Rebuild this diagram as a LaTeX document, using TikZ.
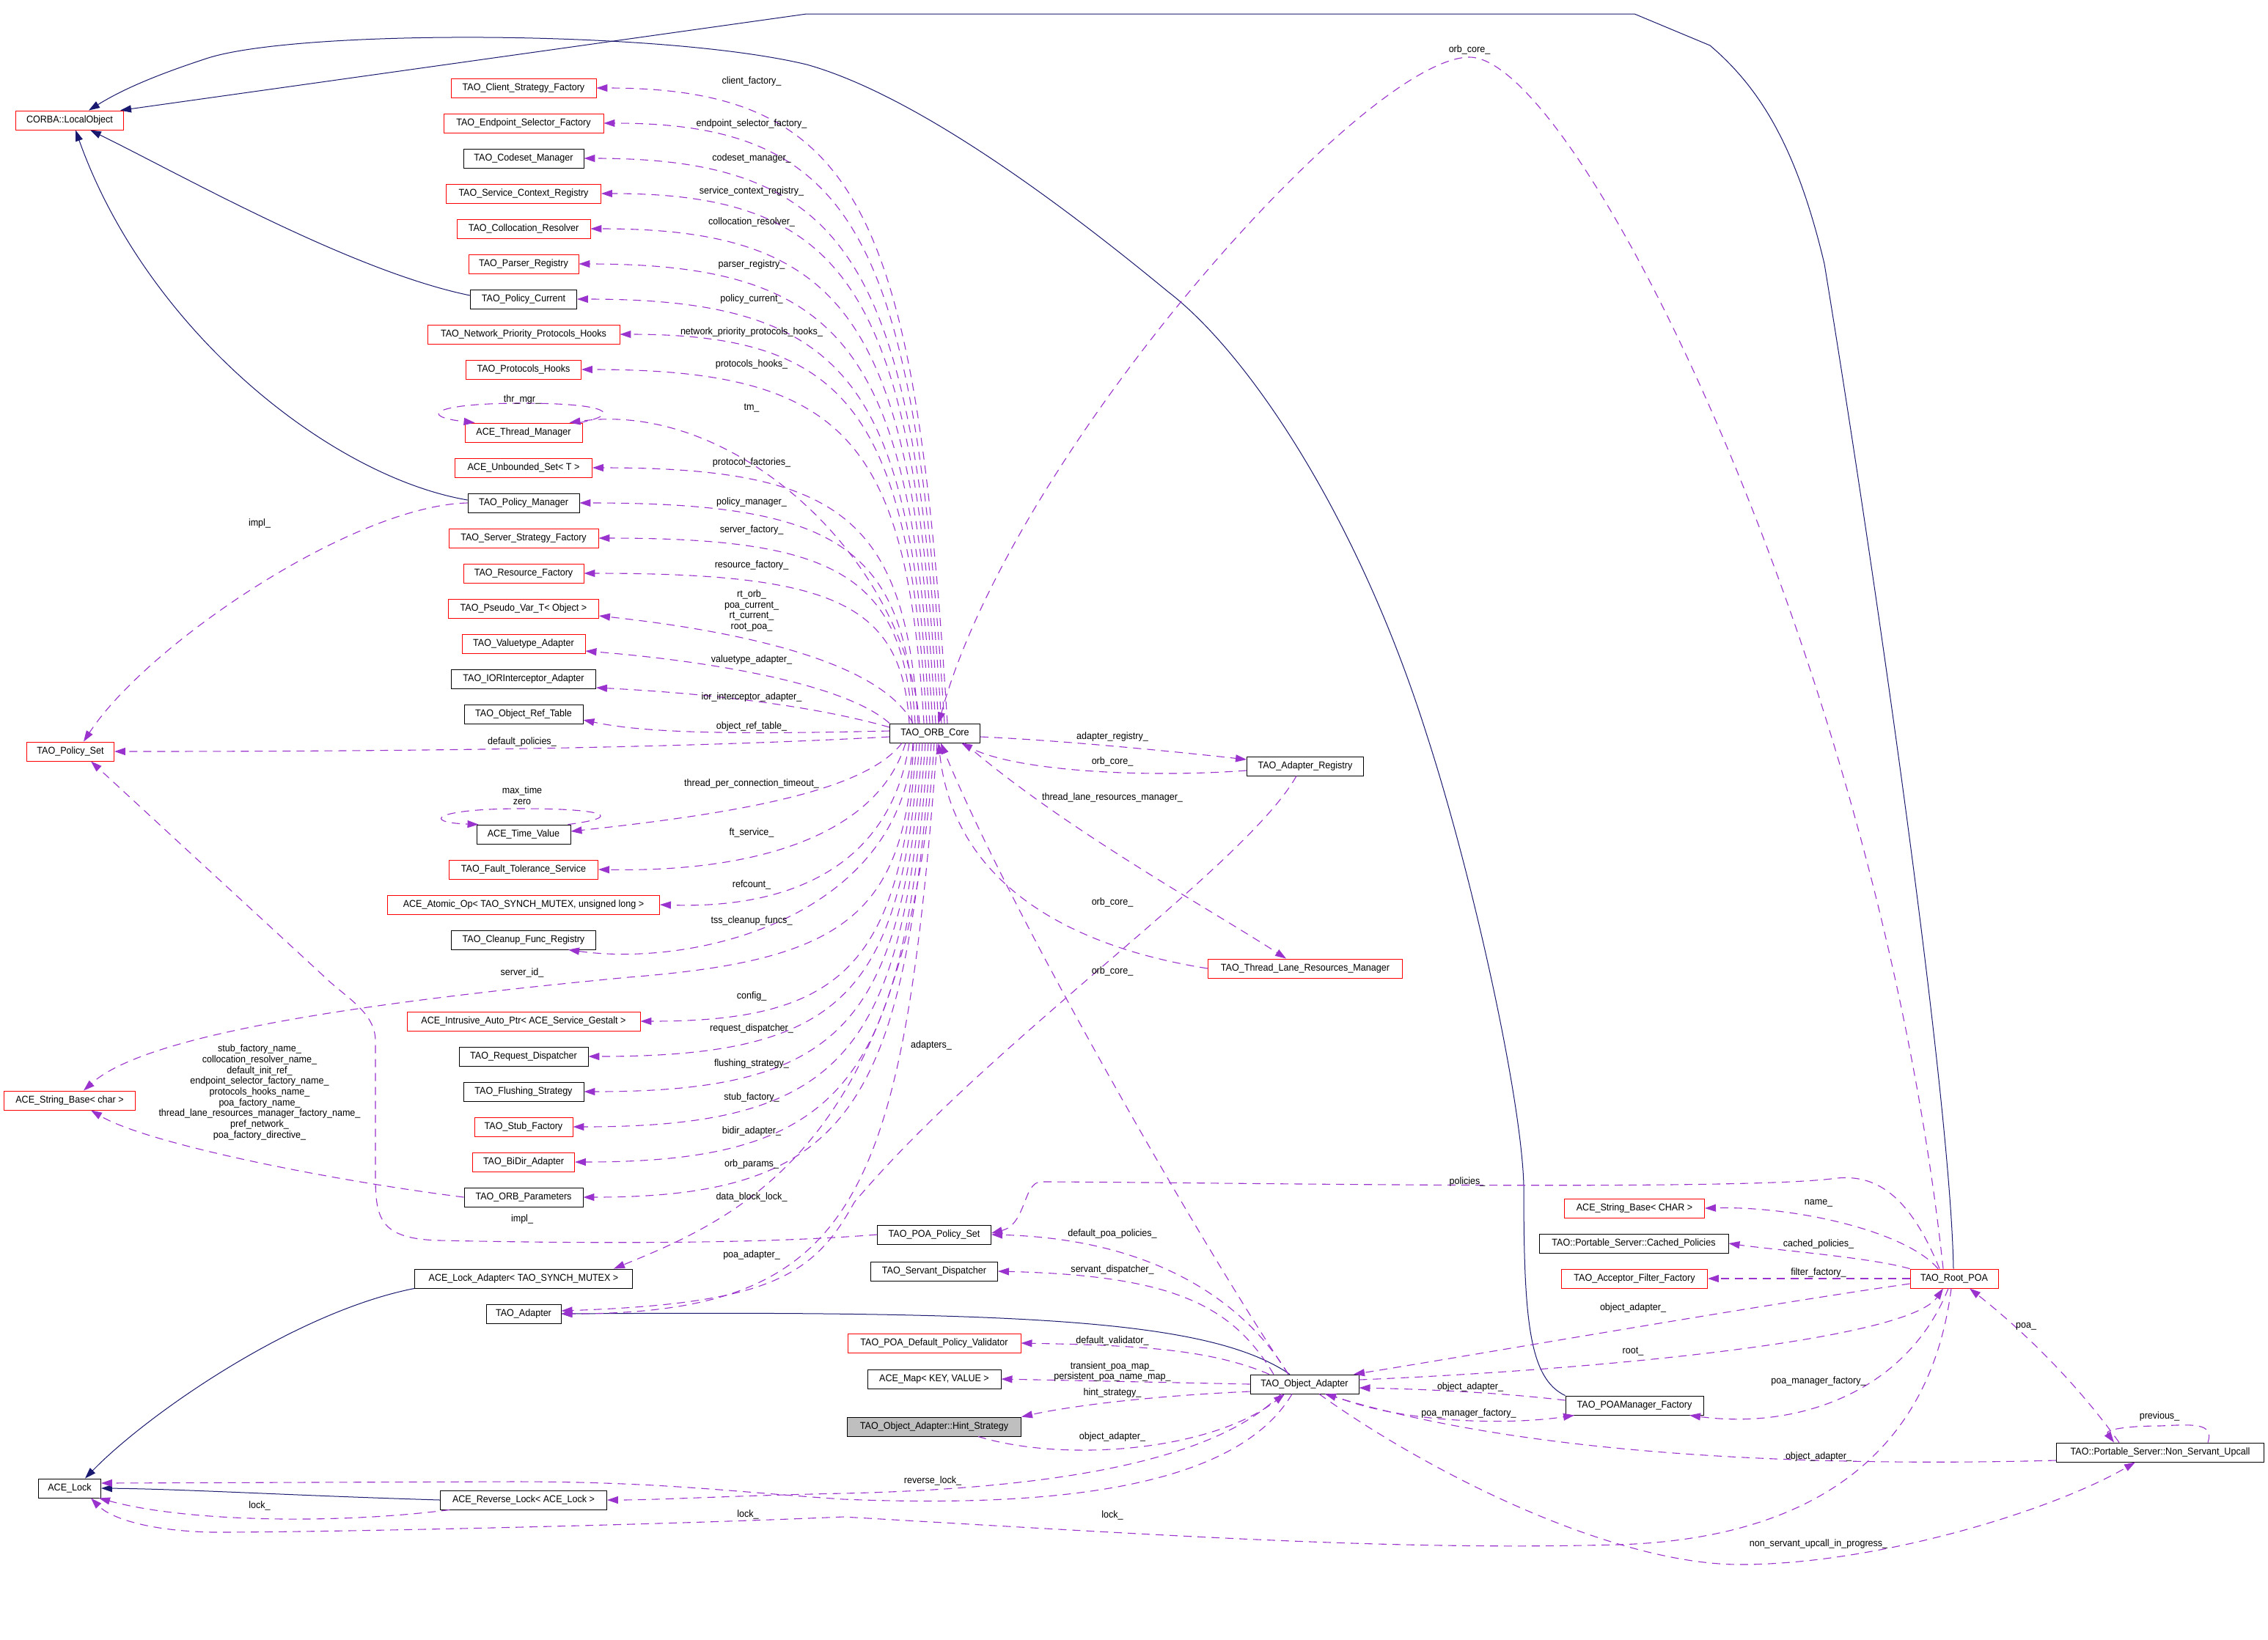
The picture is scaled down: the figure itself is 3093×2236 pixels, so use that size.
\documentclass[tikz,border=0pt]{standalone}
\usepackage{fontspec}
\setmainfont[FakeStretch=0.93]{Liberation Sans}
\usetikzlibrary{arrows.meta}
\definecolor{navyc}{HTML}{191970}
\definecolor{purp}{HTML}{9A32CD}
\newcommand\myfanup[3]{%
  \pgfmathsetmacro\myDy{987-#3}%
  \pgfmathsetmacro\mySx{#2-1275}%
  \pgfmathsetmacro\myAx{#2-0.05*\myDy}%
  \pgfmathsetmacro\myAy{#3+0.2*\myDy}%
  \pgfmathsetmacro\myBx{1125+0.06*\myDy}%
  \draw[use] ([xshift=\mySx pt]orb.north) .. controls (\myAx,\myAy) and (\myBx,#3) .. (#1.east);%
}
\newcommand\myfandown[3]{%
  \pgfmathsetmacro\myDy{#3-1013}%
  \pgfmathsetmacro\mySx{#2-1275}%
  \pgfmathsetmacro\myAx{#2-0.06*\myDy}%
  \pgfmathsetmacro\myAy{#3-0.2*\myDy}%
  \pgfmathsetmacro\myBx{1130+0.05*\myDy}%
  \draw[use] ([xshift=\mySx pt]orb.south) .. controls (\myAx,\myAy) and (\myBx,#3) .. (#1.east);%
}
\begin{document}
\begin{tikzpicture}[x=1pt,y=-1pt,
  cls/.style={draw=black, line width=0.9pt, minimum height=26pt, inner sep=0pt, fill=white, font=\fontsize{13.5}{14.7}\selectfont},
  redcls/.style={cls, draw=red},
  graycls/.style={cls, fill=black!25},
  inh/.style={draw=navyc, line width=1pt, -{Triangle[length=15pt,width=10pt]}},
  use/.style={draw=purp, line width=1.1pt, dash pattern=on 11pt off 8pt, -{Triangle[length=15pt,width=10pt]}},
  lab/.style={inner sep=0pt, align=center, font=\fontsize{13.5}{14.7}\selectfont}]
\fill[white] (0,0) rectangle (3093,2236);
\path[use as bounding box] (0,0) rectangle (3093,2236);

% ---------- nodes ----------
\node[redcls, minimum width=147pt] (corba) at (95,164) {CORBA::LocalObject};
\node[redcls, minimum width=119pt] (policyset) at (96,1025) {TAO\_Policy\_Set};
\node[redcls, minimum width=179pt] (strbase) at (95,1501) {ACE\_String\_Base< char >};
\node[cls, minimum width=85pt] (acelock) at (95,2030) {ACE\_Lock};

\node[redcls, minimum width=198pt] (csf) at (714,120) {TAO\_Client\_Strategy\_Factory};
\node[redcls, minimum width=218pt] (esf) at (714,168) {TAO\_Endpoint\_Selector\_Factory};
\node[cls, minimum width=164pt] (csm) at (714,216) {TAO\_Codeset\_Manager};
\node[redcls, minimum width=211pt] (scr) at (714,264) {TAO\_Service\_Context\_Registry};
\node[redcls, minimum width=182pt] (colr) at (714,312) {TAO\_Collocation\_Resolver};
\node[redcls, minimum width=150pt] (parr) at (714,360) {TAO\_Parser\_Registry};
\node[cls, minimum width=145pt] (polcur) at (714,408) {TAO\_Policy\_Current};
\node[redcls, minimum width=262pt] (nph) at (714,456) {TAO\_Network\_Priority\_Protocols\_Hooks};
\node[redcls, minimum width=157pt] (ph) at (714,504) {TAO\_Protocols\_Hooks};
\node[redcls, minimum width=160pt] (thrm) at (714,590) {ACE\_Thread\_Manager};
\node[redcls, minimum width=187pt] (uset) at (714,638) {ACE\_Unbounded\_Set< T >};
\node[cls, minimum width=152pt] (polman) at (714,686) {TAO\_Policy\_Manager};
\node[redcls, minimum width=204pt] (ssf) at (714,734) {TAO\_Server\_Strategy\_Factory};
\node[redcls, minimum width=164pt] (rf) at (714,782) {TAO\_Resource\_Factory};
\node[redcls, minimum width=205pt] (pvar) at (714,830) {TAO\_Pseudo\_Var\_T< Object >};
\node[redcls, minimum width=168pt] (vta) at (714,878) {TAO\_Valuetype\_Adapter};
\node[cls, minimum width=197pt] (iora) at (714,926) {TAO\_IORInterceptor\_Adapter};
\node[cls, minimum width=162pt] (ort) at (714,974) {TAO\_Object\_Ref\_Table};
\node[cls, minimum width=128pt] (timev) at (714,1138) {ACE\_Time\_Value};
\node[redcls, minimum width=203pt] (fts) at (714,1186) {TAO\_Fault\_Tolerance\_Service};
\node[redcls, minimum width=371pt] (atom) at (714,1234) {ACE\_Atomic\_Op< TAO\_SYNCH\_MUTEX, unsigned long >};
\node[cls, minimum width=197pt] (cfr) at (714,1282) {TAO\_Cleanup\_Func\_Registry};
\node[redcls, minimum width=318pt] (iap) at (714,1393) {ACE\_Intrusive\_Auto\_Ptr< ACE\_Service\_Gestalt >};
\node[cls, minimum width=176pt] (rd) at (714,1441) {TAO\_Request\_Dispatcher};
\node[cls, minimum width=164pt] (fs) at (714,1489) {TAO\_Flushing\_Strategy};
\node[redcls, minimum width=134pt] (sf) at (714,1537) {TAO\_Stub\_Factory};
\node[redcls, minimum width=139pt] (bidir) at (714,1585) {TAO\_BiDir\_Adapter};
\node[cls, minimum width=162pt] (orbp) at (714,1633) {TAO\_ORB\_Parameters};
\node[cls, minimum width=297pt] (lockad) at (714,1744) {ACE\_Lock\_Adapter< TAO\_SYNCH\_MUTEX >};
\node[cls, minimum width=102pt] (adapter) at (714,1792) {TAO\_Adapter};
\node[cls, minimum width=227pt] (revlock) at (714,2046) {ACE\_Reverse\_Lock< ACE\_Lock >};

\node[cls, minimum width=123pt] (orb) at (1275,1000) {TAO\_ORB\_Core};
\node[cls, minimum width=155pt] (pps) at (1274,1684) {TAO\_POA\_Policy\_Set};
\node[cls, minimum width=173pt] (sd) at (1274,1734) {TAO\_Servant\_Dispatcher};
\node[redcls, minimum width=236pt] (dpv) at (1274,1832) {TAO\_POA\_Default\_Policy\_Validator};
\node[cls, minimum width=182pt] (map) at (1274,1881) {ACE\_Map< KEY, VALUE >};
\node[graycls, minimum width=237pt] (hint) at (1274,1946) {TAO\_Object\_Adapter::Hint\_Strategy};

\node[cls, minimum width=159pt] (areg) at (1780,1045) {TAO\_Adapter\_Registry};
\node[redcls, minimum width=265pt] (tlrm) at (1780,1321) {TAO\_Thread\_Lane\_Resources\_Manager};
\node[cls, minimum width=148pt] (oa) at (1779,1888) {TAO\_Object\_Adapter};

\node[redcls, minimum width=191pt] (sbc) at (2229,1648) {ACE\_String\_Base< CHAR >};
\node[cls, minimum width=258pt] (cpol) at (2228,1696) {TAO::Portable\_Server::Cached\_Policies};
\node[redcls, minimum width=199pt] (aff) at (2229,1744) {TAO\_Acceptor\_Filter\_Factory};
\node[cls, minimum width=188pt] (poamf) at (2229,1917) {TAO\_POAManager\_Factory};
\node[redcls, minimum width=120pt] (rootpoa) at (2665,1744) {TAO\_Root\_POA};
\node[cls, minimum width=283pt] (nsu) at (2946,1981) {TAO::Portable\_Server::Non\_Servant\_Upcall};

% ---------- inheritance ----------
\draw[inh] ([yshift=5pt]polcur.west) .. controls (480,370) and (250,240) .. ([xshift=28pt]corba.south);
\draw[inh] ([yshift=4pt]polman.west) .. controls (450,650) and (200,450) .. ([xshift=8pt]corba.south);
\draw[inh] (poamf.north west) .. controls (2085,1880) and (2078,1800) .. (2078,1617)
  .. controls (2075,1500) and (2010,1200) .. (1945,1000)
  .. controls (1850,700) and (1700,480) .. (1593,398)
  .. controls (1450,280) and (1250,130) .. (1100,88)
  .. controls (900,40) and (400,40) .. (281,80)
  .. controls (220,100) and (170,120) .. ([xshift=26pt]corba.north);
\draw[inh] ([xshift=-1pt]rootpoa.north) .. controls (2660,1500) and (2560,800) .. (2488,360)
  .. controls (2450,200) and (2400,120) .. (2332,62) -- (2229,19) -- (1100,19) -- ([xshift=69pt]corba.north);
\draw[inh] (lockad.south west) .. controls (400,1790) and (200,1930) .. ([xshift=21pt]acelock.north);
\draw[inh] (revlock.west) .. controls (400,2040) and (250,2031) .. (acelock.east);
\draw[inh] ([xshift=-20pt]oa.north) .. controls (1650,1800) and (1400,1788) .. (adapter.east);

% ---------- ORB core fan (upper) ----------
\myfanup{csf}{1292}{120}
\myfanup{esf}{1288}{168}
\myfanup{csm}{1284}{216}
\myfanup{scr}{1280}{264}
\myfanup{colr}{1276}{312}
\myfanup{parr}{1272}{360}
\myfanup{polcur}{1268}{408}
\myfanup{nph}{1264}{456}
\myfanup{ph}{1260}{504}
\myfanup{uset}{1252}{638}
\myfanup{polman}{1248}{686}
\myfanup{ssf}{1244}{734}
\myfanup{rf}{1240}{782}
\draw[use] ([xshift=-21pt]orb.north) .. controls (1235,760) and (1000,545) .. ([xshift=-18pt]thrm.north east);
\draw[use] ([xshift=-30pt]orb.north) .. controls (1200,900) and (1000,860) .. ([yshift=-10pt]pvar.east);
\draw[use] (orb.north west) .. controls (1150,930) and (950,900) .. ([yshift=-10pt]vta.east);
\draw[use] ([yshift=8pt]orb.west) .. controls (1100,960) and (950,945) .. ([yshift=-12pt]iora.east);
\draw[use] ([yshift=3pt]orb.west) .. controls (1000,1002) and (880,1000) .. ([yshift=-8pt]ort.east);
\draw[use] ([yshift=-5pt]orb.west) .. controls (900,1022) and (500,1025) .. (policyset.east);
% self loops
\draw[use] ([xshift=-4pt]thrm.north east) .. controls (850,565) and (830,550) .. (712,550) .. controls (590,550) and (570,568) .. ([xshift=14pt]thrm.north west);
\draw[use] ([xshift=-4pt]timev.north east) .. controls (850,1115) and (830,1103) .. (712,1103) .. controls (590,1103) and (575,1122) .. ([xshift=3pt]timev.north west);
\draw[use] (polman.west) .. controls (480,690) and (200,880) .. ([xshift=18pt]policyset.north);

% ---------- ORB core fan (lower) ----------
\draw[use] ([xshift=-45pt]orb.south) .. controls (1180,1080) and (1000,1110) .. ([yshift=4pt]timev.east);
\draw[use] ([xshift=-40pt]orb.south) .. controls (1200,1130) and (1050,1190) .. (fts.east);
\draw[use] ([xshift=-35pt]orb.south) .. controls (1215,1180) and (1080,1240) .. (atom.east);
\draw[use] ([xshift=-30pt]orb.south) .. controls (1230,1250) and (950,1320) .. ([xshift=61pt]cfr.south);
\draw[use] ([xshift=-29pt]orb.south) .. controls (1235,1250) and (1150,1310) .. (857,1333)
  .. controls (500,1367) and (200,1410) .. ([xshift=19pt]strbase.north);
\myfandown{iap}{1250}{1393}
\myfandown{rd}{1254}{1441}
\myfandown{fs}{1258}{1489}
\myfandown{sf}{1262}{1537}
\myfandown{bidir}{1266}{1585}
\myfandown{orbp}{1270}{1633}
\draw[use] ([xshift=-1pt]orb.south) .. controls (1240,1560) and (1010,1660) .. ([xshift=123pt]lockad.north);
\myfandown{adapter}{1278}{1792}
\draw[use] (orbp.west) .. controls (450,1610) and (200,1560) .. ([xshift=29pt]strbase.south);
\draw[use] (pps.west) .. controls (1000,1700) and (700,1694) .. (600,1692)
  .. controls (515,1690) and (512,1660) .. (512,1600) -- (512,1420)
  .. controls (512,1380) and (470,1360) .. (440,1330) -- ([xshift=28pt]policyset.south);

% ---------- right part ----------
\draw[use] ([xshift=-15pt]rootpoa.north) .. controls (2560,900) and (2150,78) .. (2004,78)
  .. controls (1860,78) and (1380,620) .. ([xshift=5pt]orb.north);
\draw[use] ([yshift=-5pt]orb.east) .. controls (1450,1010) and (1600,1025) .. ([yshift=9pt]areg.west);
\draw[use] ([yshift=-6pt]areg.west) .. controls (1550,1062) and (1380,1050) .. ([xshift=36pt]orb.south);
\draw[use] ([xshift=40pt]orb.south) .. controls (1450,1130) and (1650,1240) .. ([xshift=-26pt]tlrm.north);
\draw[use] (tlrm.west) .. controls (1450,1290) and (1300,1200) .. ([xshift=5pt]orb.south);
\draw[use] ([xshift=-12pt]areg.south) .. controls (1700,1180) and (1350,1420) .. (1165,1640)
  .. controls (1110,1740) and (1050,1778) .. ([yshift=4pt]adapter.east);
\draw[use] ([xshift=-22pt]oa.north) .. controls (1640,1700) and (1380,1250) .. ([xshift=8pt]orb.south);

\draw[use] ([xshift=-22pt]oa.north) .. controls (1700,1780) and (1580,1690) .. (pps.east);
\draw[use] ([xshift=-42pt]oa.north) .. controls (1680,1780) and (1600,1740) .. (sd.east);
\draw[use] ([xshift=-48pt]oa.north) .. controls (1650,1840) and (1550,1835) .. (dpv.east);
\draw[use] (oa.west) -- (map.east);
\draw[use] ([yshift=-10pt]oa.west) .. controls (1550,1905) and (1450,1920) .. (hint.north east);
\draw[use] ([xshift=60pt]hint.south) .. controls (1450,1995) and (1650,1980) .. ([xshift=-27pt]oa.south);
\draw[use] ([xshift=-32pt]oa.south) .. controls (1660,1990) and (1450,2030) .. (1150,2037)
  .. controls (1000,2040) and (900,2046) .. (revlock.east);
\draw[use] ([xshift=-17pt]oa.south) .. controls (1680,2040) and (1400,2055) .. (1150,2045)
  .. controls (1000,2035) and (900,2021) .. (700,2021) -- ([yshift=7pt]acelock.east);
\draw[use] ([xshift=13pt]revlock.south west) .. controls (450,2080) and (250,2075) .. ([xshift=40pt]acelock.south);
\draw[use] ([xshift=-4pt]rootpoa.south) .. controls (2630,2000) and (2450,2100) .. (2205,2107)
  .. controls (1900,2115) and (1600,2095) .. (1150,2069)
  .. controls (900,2080) and (450,2090) .. (290,2090)
  .. controls (200,2088) and (150,2070) .. ([xshift=29pt]acelock.south);
\draw[use] ([xshift=20pt]oa.south) .. controls (1950,2010) and (2200,2134) .. (2373,2134)
  .. controls (2560,2134) and (2800,2060) .. ([xshift=-34pt]nsu.south);

\draw[use] ([xshift=-20pt]rootpoa.north) .. controls (2600,1620) and (2550,1600) .. (2497,1608)
  .. controls (2350,1625) and (1600,1612) .. (1420,1612)
  .. controls (1395,1612) and (1400,1670) .. ([yshift=2pt]pps.east);
\draw[use] ([xshift=-22pt]rootpoa.north) .. controls (2600,1680) and (2450,1645) .. (sbc.east);
\draw[use] (rootpoa.north west) .. controls (2550,1715) and (2420,1705) .. (cpol.east);
\draw[use] (rootpoa.west) -- (aff.east);
\draw[use] ([yshift=-7pt]rootpoa.west) .. controls (2400,1780) and (2000,1850) .. ([xshift=67pt]oa.north);
\draw[use] ([yshift=6pt]oa.east) .. controls (2150,1870) and (2600,1830) .. ([xshift=-15pt]rootpoa.south);
\draw[use] ([xshift=-8pt]rootpoa.south) .. controls (2600,1900) and (2450,1950) .. ([xshift=75pt]poamf.south);
\draw[use] ([yshift=7pt]poamf.west) .. controls (2050,1900) and (1950,1895) .. ([yshift=-5pt]oa.east);
\draw[use] ([xshift=34pt]oa.south) .. controls (1900,1940) and (2050,1945) .. ([xshift=-82pt]poamf.south);
\draw[use] ([yshift=-11pt]nsu.west) .. controls (2500,2000) and (2100,1990) .. ([xshift=28pt]oa.south);
\draw[use] ([xshift=-56pt]nsu.north) .. controls (2820,1870) and (2740,1800) .. ([xshift=21pt]rootpoa.south);
\draw[use] ([xshift=65pt]nsu.north) .. controls (3020,1940) and (2990,1943) .. (2945,1945)
  .. controls (2900,1945) and (2870,1950) .. ([xshift=-63pt]nsu.north);

% ---------- labels ----------
\node[lab] (l1) at (1025,111) {client\_factory\_};
\node[lab] (l2) at (1025,169) {endpoint\_selector\_factory\_};
\node[lab] (l3) at (1025,216) {codeset\_manager\_};
\node[lab] (l4) at (1025,261) {service\_context\_registry\_};
\node[lab] (l5) at (1025,303) {collocation\_resolver\_};
\node[lab] (l6) at (1025,361) {parser\_registry\_};
\node[lab] (l7) at (1025,408) {policy\_current\_};
\node[lab] (l8) at (1025,453) {network\_priority\_protocols\_hooks\_};
\node[lab] (l9) at (1025,497) {protocols\_hooks\_};
\node[lab] (l10) at (712,545) {thr\_mgr\_};
\node[lab] (l11) at (1025,556) {tm\_};
\node[lab] (l12) at (1025,631) {protocol\_factories\_};
\node[lab] (l13) at (1025,685) {policy\_manager\_};
\node[lab] (l14) at (1025,723) {server\_factory\_};
\node[lab] (l15) at (1025,771) {resource\_factory\_};
\node[lab] (l16) at (1025,833) {rt\_orb\_\\poa\_current\_\\rt\_current\_\\root\_poa\_};
\node[lab] (l17) at (1025,900) {valuetype\_adapter\_};
\node[lab] (l18) at (1025,951) {ior\_interceptor\_adapter\_};
\node[lab] (l19) at (1025,991) {object\_ref\_table\_};
\node[lab] (l20) at (712,1012) {default\_policies\_};
\node[lab] (l21) at (354,714) {impl\_};
\node[lab] (l22) at (1025,1069) {thread\_per\_connection\_timeout\_};
\node[lab] (l23) at (712,1085) {max\_time\\zero};
\node[lab] (l24) at (1025,1136) {ft\_service\_};
\node[lab] (l25) at (1025,1207) {refcount\_};
\node[lab] (l26) at (1025,1256) {tss\_cleanup\_funcs\_};
\node[lab] (l27) at (712,1327) {server\_id\_};
\node[lab] (l28) at (1025,1359) {config\_};
\node[lab] (l29) at (1025,1403) {request\_dispatcher\_};
\node[lab] (l30) at (1025,1451) {flushing\_strategy\_};
\node[lab] (l31) at (1025,1497) {stub\_factory\_};
\node[lab] (l32) at (1025,1543) {bidir\_adapter\_};
\node[lab] (l33) at (1025,1588) {orb\_params\_};
\node[lab] (l34) at (1025,1633) {data\_block\_lock\_};
\node[lab] (l35) at (712,1663) {impl\_};
\node[lab] (l36) at (1025,1712) {poa\_adapter\_};
\node[lab] (l37) at (354,1490) {stub\_factory\_name\_\\collocation\_resolver\_name\_\\default\_init\_ref\_\\endpoint\_selector\_factory\_name\_\\protocols\_hooks\_name\_\\poa\_factory\_name\_\\thread\_lane\_resources\_manager\_factory\_name\_\\pref\_network\_\\poa\_factory\_directive\_};
\node[lab] (l38) at (354,2054) {lock\_};
\node[lab] (l39) at (2004,68) {orb\_core\_};
\node[lab] (l40) at (1517,1005) {adapter\_registry\_};
\node[lab] (l41) at (1517,1039) {orb\_core\_};
\node[lab] (l42) at (1517,1088) {thread\_lane\_resources\_manager\_};
\node[lab] (l43) at (1517,1231) {orb\_core\_};
\node[lab] (l44) at (1517,1325) {orb\_core\_};
\node[lab] (l45) at (1270,1426) {adapters\_};
\node[lab] (l46) at (1517,1683) {default\_poa\_policies\_};
\node[lab] (l47) at (1517,1732) {servant\_dispatcher\_};
\node[lab] (l48) at (1517,1829) {default\_validator\_};
\node[lab] (l49) at (1517,1871) {transient\_poa\_map\_\\persistent\_poa\_name\_map\_};
\node[lab] (l50) at (1517,1900) {hint\_strategy\_};
\node[lab] (l51) at (1517,1960) {object\_adapter\_};
\node[lab] (l52) at (1272,2020) {reverse\_lock\_};
\node[lab] (l53) at (1517,2067) {lock\_};
\node[lab] (l54) at (1020,2066) {lock\_};
\node[lab] (l55) at (2001,1612) {policies\_};
\node[lab] (l56) at (2480,1641) {name\_};
\node[lab] (l57) at (2480,1697) {cached\_policies\_};
\node[lab] (l58) at (2480,1736) {filter\_factory\_};
\node[lab] (l59) at (2227,1784) {object\_adapter\_};
\node[lab] (l60) at (2227,1843) {root\_};
\node[lab] (l61) at (2480,1884) {poa\_manager\_factory\_};
\node[lab] (l62) at (2005,1892) {object\_adapter\_};
\node[lab] (l63) at (2003,1928) {poa\_manager\_factory\_};
\node[lab] (l64) at (2763,1809) {poa\_};
\node[lab] (l65) at (2945,1932) {previous\_};
\node[lab] (l66) at (2480,1987) {object\_adapter\_};
\node[lab] (l67) at (2480,2106) {non\_servant\_upcall\_in\_progress\_};
\end{tikzpicture}
\end{document}
